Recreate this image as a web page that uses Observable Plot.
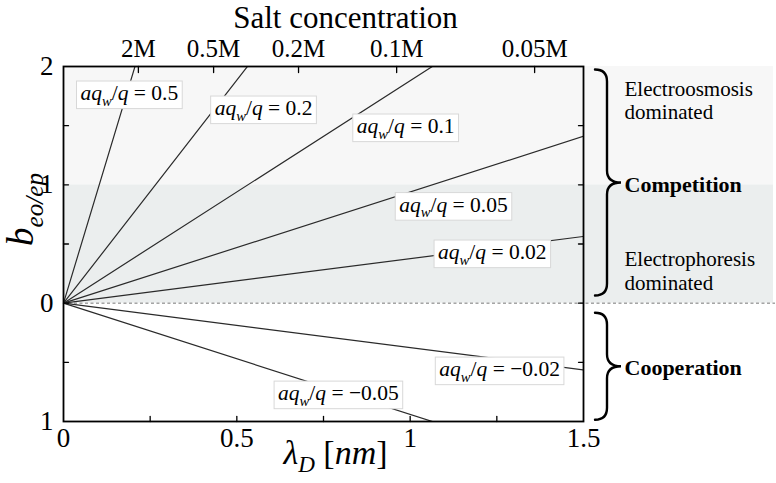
<!DOCTYPE html>
<html><head><meta charset="utf-8">
<script src="https://cdn.jsdelivr.net/npm/d3@7"></script>
<script src="https://cdn.jsdelivr.net/npm/@observablehq/plot@0.6"></script>
<style>
body{margin:0;background:#fff;}
svg{display:block}
#chart svg, #chart svg text, #chart svg tspan { font-family: 'Liberation Serif', 'DejaVu Serif', serif; }
</style>
</head><body><div id="chart"></div>
<script>
// ---- data ----
const xTickValues = [0, 0.5, 1, 1.5];
const xMinorTicks = [0.25, 0.5, 0.75, 1, 1.25];
const yTickValues = [-1, 0, 1, 2];
const yTickText = ["1", "0", "1", "2"];
const yMinorTicks = [-0.5, 0, 0.5, 1, 1.5];
const saltPositions = [0.216, 0.433, 0.678, 0.961, 1.359];
const saltLabels = ["2M", "0.5M", "0.2M", "0.1M", "0.05M"];
const ratioLabels = ["0.5", "0.2", "0.1", "0.05", "0.02", "\u22120.02", "\u22120.05"];
const slopeAt1nm = [9.7, 3.77, 1.88, 0.94, 0.376, -0.376, -0.94];
const labelX = [0.190, 0.577, 0.987, 1.125, 1.237, 1.258, 0.793];
const labelY = [1.775, 1.648, 1.496, 0.832, 0.431, -0.558, -0.761];
const bandFrom = [0, 1];
const bandTo = [1, 2];
const bandColor = ["#ebeeee", "#f7f7f7"];
const regionText = ["Electroosmosis\ndominated", "Competition", "Electrophoresis\ndominated", "Cooperation"];
const regionY = [1.716, 1.0, 0.275, -0.55];
const regionBold = [false, true, false, true];
const braceFrom = [1.97, -0.085];
const braceTo = [0.06, -0.99];

// ---- derived tables ----
const xMax = 1.5;
const rays = slopeAt1nm.flatMap((m, i) => [{k: i, x: 0, y: 0}, {k: i, x: xMax, y: m * xMax}]);
const bands = bandFrom.map((y1, i) => ({y1, y2: bandTo[i], fill: bandColor[i]}));
const labels = ratioLabels.map((r, i) => ({r, x: labelX[i], y: labelY[i]}));
const regions = regionText.map((t, i) => ({t, y: regionY[i], bold: regionBold[i]}));
const tickShape = {draw(ctx, l) { ctx.moveTo(0, 0); ctx.lineTo(0, -l); }};
const tk = {anchor: "start", shape: tickShape, stroke: "#000", strokeWidth: 1.3};
const EQ = "\u2063EQ\u2063", XL = "\u2063XL\u2063", YL = "\u2063YL\u2063";
const EQSIZE = 21.5;

const plot = Plot.plot({
  width: 776, height: 483,
  marginLeft: 63, marginRight: 193, marginTop: 66, marginBottom: 62,
  style: {fontFamily: "'Liberation Serif', serif", background: "#fff", color: "#000", overflow: "visible"},
  x: {domain: [0, xMax]},
  y: {domain: [-1, 2]},
  color: {type: "identity"},
  marks: [
    Plot.rect(bands, {x1: 0, x2: xMax, y1: "y1", y2: "y2", fill: "fill", insetRight: -190}),
    Plot.ruleY([0], {x1: 0, x2: xMax, insetRight: -192, stroke: "#777", strokeWidth: 1, strokeDasharray: "3,2.5"}),
    Plot.line(rays, {x: "x", y: "y", z: "k", stroke: "#2a2a2a", strokeWidth: 1.2, clip: true}),
    Plot.text(labels, {x: "x", y: "y", text: d => EQ + d.r, fontSize: EQSIZE}),
    Plot.frame({stroke: "#000", strokeWidth: 1.8}),
    Plot.vector(xMinorTicks, {x: d => d, y: -1, length: 5, rotate: 0, ...tk}),
    Plot.vector(saltPositions, {x: d => d, y: 2, length: 6, rotate: 180, ...tk}),
    Plot.vector(yMinorTicks, {x: 0, y: d => d, length: 5, rotate: 90, ...tk}),
    Plot.vector(yMinorTicks, {x: xMax, y: d => d, length: 5, rotate: 270, ...tk}),
    Plot.axisX({ticks: xTickValues, tickSize: 0, tickPadding: 6, fontSize: 27, tickFormat: d => String(d), label: null}),
    Plot.axisY({ticks: yTickValues, tickSize: 0, tickPadding: 10, fontSize: 27, tickFormat: d => yTickText[yTickValues.indexOf(d)], label: null}),
    Plot.axisX({anchor: "top", ticks: saltPositions, tickSize: 0, tickPadding: 10, fontSize: 25, tickFormat: d => saltLabels[saltPositions.indexOf(d)], label: null}),
    Plot.text(["Salt concentration"], {text: d => d, frameAnchor: "top", lineAnchor: "middle", dx: 22, dy: -48, fontSize: 31}),
    Plot.text(["\u03bbD [nm]"], {text: d => XL + d, frameAnchor: "bottom", dx: 12, dy: 42, fontSize: 34}),
    Plot.text(["b"], {text: d => YL + d, frameAnchor: "left", dx: -42, dy: 2, rotate: -90, fontSize: 37}),
    Plot.text(regions.filter(d => !d.bold), {x: xMax, y: "y", text: "t", dx: 41, textAnchor: "start", fontSize: 21, lineHeight: 1.1}),
    Plot.text(regions.filter(d => d.bold), {x: xMax, y: "y", text: "t", dx: 41, textAnchor: "start", fontSize: 22, fontWeight: "bold"})
  ]
});
document.getElementById("chart").append(plot);

// ---- rich text (italics, subscripts) ----
const NS = "http://www.w3.org/2000/svg";
function richText(el, parts, size) {
  el.textContent = "";
  let shift = 0;
  for (const p of parts) {
    const ts = document.createElementNS(NS, "tspan");
    ts.textContent = p.t;
    if (p.i) ts.setAttribute("font-style", "italic");
    const target = p.sub ? size * 0.26 : 0;
    if (target !== shift) { ts.setAttribute("dy", target - shift); shift = target; }
    if (p.sub) ts.setAttribute("font-size", size * 0.68);
    el.appendChild(ts);
  }
}
d3.select(plot).selectAll("text").each(function() {
  const s = this.textContent;
  if (s.startsWith(EQ)) {
    const r = s.slice(EQ.length);
    richText(this, [{t: "aq", i: 1}, {t: "w", i: 1, sub: 1}, {t: "/"}, {t: "q", i: 1}, {t: " = " + r}], EQSIZE);
    const bb = this.getBBox();
    const rect = document.createElementNS(NS, "rect");
    rect.setAttribute("x", bb.x - 4);
    rect.setAttribute("y", bb.y);
    rect.setAttribute("width", bb.width + 8);
    rect.setAttribute("height", bb.height);
    rect.setAttribute("fill", "#fff");
    rect.setAttribute("stroke", "#d8d8d8");
    rect.setAttribute("stroke-width", 1);
    if (this.getAttribute("transform")) rect.setAttribute("transform", this.getAttribute("transform"));
    this.parentNode.insertBefore(rect, this);
  } else if (s.startsWith(XL)) {
    richText(this, [{t: "\u03bb", i: 1}, {t: "D", i: 1, sub: 1}, {t: " ["}, {t: "nm", i: 1}, {t: "]"}], 34);
  } else if (s.startsWith(YL)) {
    richText(this, [{t: "b", i: 1}, {t: "eo/ep", i: 1, sub: 1}], 37);
  }
});

// ---- curly braces on the right ----
const xs = plot.scale("x"), ys = plot.scale("y");
const R = xs.apply(xMax);
const s = R + 24, h = R + 12, c = R + 38, rr = 12;
d3.select(plot).append("g")
  .selectAll("path")
  .data(braceFrom.map((a, i) => [ys.apply(a), ys.apply(braceTo[i])]))
  .join("path")
  .attr("fill", "none").attr("stroke", "#000").attr("stroke-width", 2.4).attr("stroke-linecap", "round")
  .attr("d", ([y0, y1]) => {
    const ym = (y0 + y1) / 2;
    return `M${h},${y0}Q${s},${y0} ${s},${y0 + rr}L${s},${ym - rr}Q${s},${ym} ${c},${ym}` +
           `Q${s},${ym} ${s},${ym + rr}L${s},${y1 - rr}Q${s},${y1} ${h},${y1}`;
  });
</script></body></html>
